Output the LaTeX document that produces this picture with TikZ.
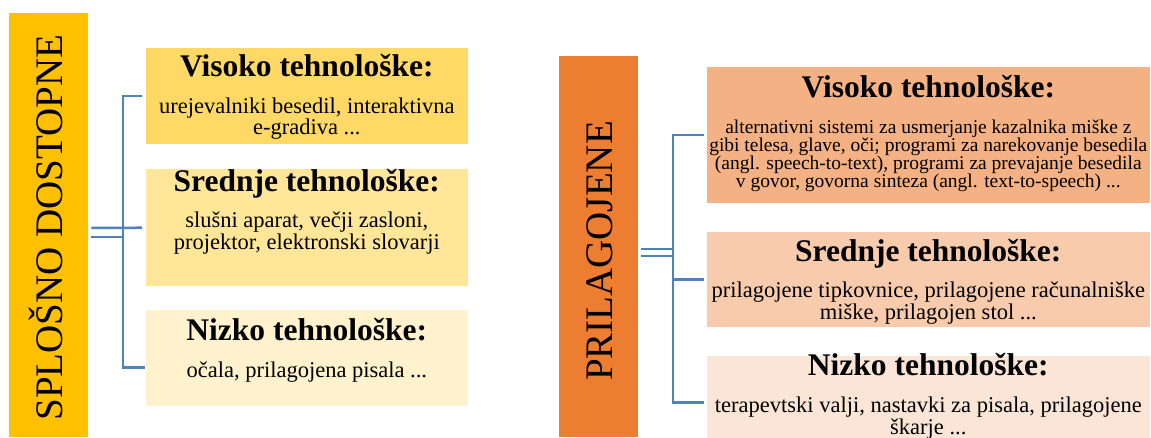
\documentclass[tikz,border=0pt]{standalone}
\usepackage{fontspec}
\setmainfont{Liberation Serif}
\usetikzlibrary{positioning}

\definecolor{sploGold}{HTML}{FFC000}
\definecolor{sploVisFill}{HTML}{FFD966}
\definecolor{sploSredFill}{HTML}{FFE699}
\definecolor{sploNizFill}{HTML}{FFF2CC}
\definecolor{prilOrange}{HTML}{ED7D31}
\definecolor{prilVisFill}{HTML}{F4B183}
\definecolor{prilSredFill}{HTML}{F8CBAD}
\definecolor{prilNizFill}{HTML}{FBE5D6}
\definecolor{lineBlue}{RGB}{79,129,189}

\begin{document}
\begin{tikzpicture}[x=1pt, y=1pt,
    bar/.style={rectangle, anchor=south west, inner sep=0pt, minimum width=79pt},
    box/.style={rectangle, anchor=south west, inner sep=0pt, draw=white, line width=0.6pt},
    title/.style={rotate=90, anchor=base, inner sep=0pt, font=\fontsize{39}{40}\selectfont},
    head/.style={anchor=base, inner sep=0pt, font=\fontsize{31.5}{33}\selectfont\bfseries},
    body/.style={anchor=base, inner sep=0pt, align=center, font=\fontsize{22.5}{21}\selectfont},
    line/.style={draw=lineBlue, line width=2.5pt}
]
    \useasboundingbox (0,0) rectangle (1151,437);
    \clip (0,0) rectangle (1151,437);

    % Splosno dostopne
    \node [bar, fill=sploGold, minimum height=424pt] (sploBar) at (9,0) {};
    \node [title] (sploTitle) at (62,209.5) {SPLOŠNO DOSTOPNE};

    \node [box, fill=sploVisFill, minimum width=323pt, minimum height=97pt] (sploVis) at (145,292) {};
    \node [head] (sploVisHead) at ([yshift=-29pt]sploVis.north) {Visoko tehnološke:};
    \node [body, font=\fontsize{22.5}{20.5}\selectfont] (sploVisText) at ([yshift=-87pt]sploVis.north) {urejevalniki besedil, interaktivna\\e-gradiva ...};

    \node [box, fill=sploSredFill, minimum width=323pt, minimum height=118pt] (sploSred) at (145,150) {};
    \node [head] (sploSredHead) at ([yshift=-23pt]sploSred.north) {Srednje tehnološke:};
    \node [body, font=\fontsize{22.5}{22}\selectfont] (sploSredText) at ([yshift=-81pt]sploSred.north) {slušni aparat, večji zasloni,\\projektor, elektronski slovarji};

    \node [box, fill=sploNizFill, minimum width=323pt, minimum height=97pt] (sploNiz) at (145,30) {};
    \node [head] (sploNizHead) at ([yshift=-31pt]sploNiz.north) {Nizko tehnološke:};
    \node [body] (sploNizText) at ([yshift=-68pt]sploNiz.north) {očala, prilagojena pisala ...};

    % Prilagojene
    \node [bar, fill=prilOrange, minimum height=381pt] (prilBar) at (559,0) {};
    \node [title] (prilTitle) at (612,186) {PRILAGOJENE};

    \node [box, fill=prilVisFill, minimum width=444pt, minimum height=137pt] (prilVis) at (706,233) {};
    \node [head] (prilVisHead) at ([yshift=-31pt]prilVis.north) {Visoko tehnološke:};
    \node [body, font=\fontsize{19.5}{18}\selectfont] (prilVisText) at ([yshift=-121pt]prilVis.north)
        {alternativni sistemi za usmerjanje kazalnika miške z\\gibi telesa, glave, oči; programi za narekovanje besedila\\(angl. speech-to-text), programi za prevajanje besedila\\v govor, govorna sinteza (angl. text-to-speech) ...};

    \node [box, fill=prilSredFill, minimum width=444pt, minimum height=96pt] (prilSred) at (706,109) {};
    \node [head] (prilSredHead) at ([yshift=-30pt]prilSred.north) {Srednje tehnološke:};
    \node [body, font=\fontsize{22.5}{22}\selectfont] (prilSredText) at ([yshift=-88pt]prilSred.north) {prilagojene tipkovnice, prilagojene računalniške\\miške, prilagojen stol ...};

    \node [box, fill=prilNizFill, minimum width=444pt, minimum height=94pt] (prilNiz) at (706,-13) {};
    \node [head] (prilNizHead) at ([yshift=-20pt]prilNiz.north) {Nizko tehnološke:};
    \node [body, font=\fontsize{22.5}{22}\selectfont] (prilNizText) at ([yshift=-79pt]prilNiz.north) {terapevtski valji, nastavki za pisala, prilagojene\\škarje ...};

    % Connections
    \coordinate (sploFork) at (123,209);
    \coordinate (sploFork2) at (123,200);
    \path [line, shorten <=3pt] (sploVis.west) -| (sploFork) |- ([yshift=-9.5pt]sploNiz.west);
    \path [line, shorten <=3pt, shorten >=3pt] (sploBar.east |- sploFork) -- (sploSred.west);
    \path [line, shorten <=3pt] (sploBar.east |- sploFork2) -- (sploFork2);

    \coordinate (prilFork) at (673,188);
    \coordinate (prilFork2) at (673,181);
    \path [line, shorten <=2pt, shorten >=2pt] (prilVis.west) -| (prilFork) |- (prilNiz.west);
    \path [line, shorten >=2pt] (prilFork |- prilSred.west) -- (prilSred.west);
    \path [line, shorten <=3pt] (prilBar.east |- prilFork) -- (prilFork);
    \path [line, shorten <=3pt] (prilBar.east |- prilFork2) -- (prilFork2);

\end{tikzpicture}
\end{document}
